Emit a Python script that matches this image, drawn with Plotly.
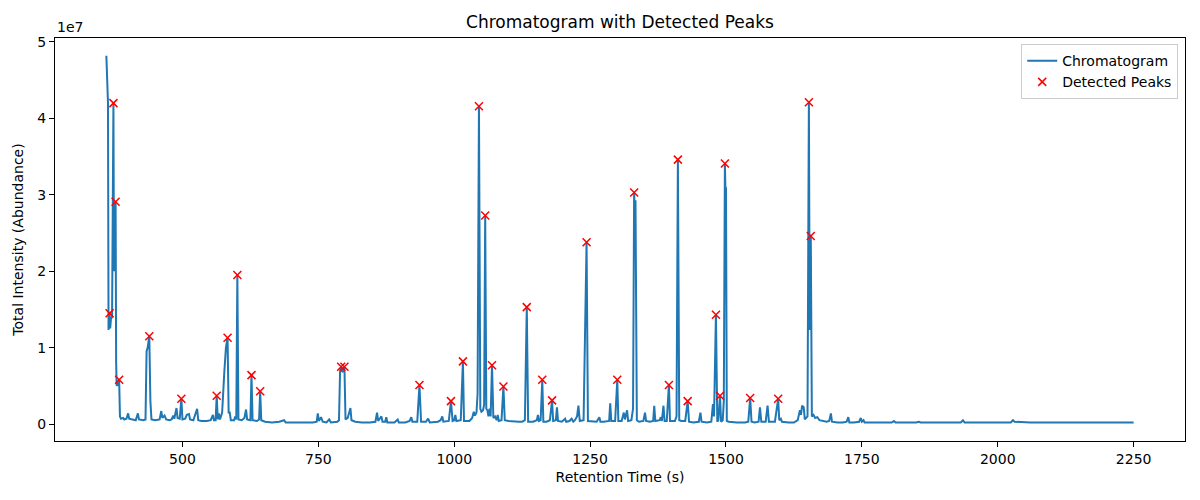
import plotly.graph_objects as go


# Chromatogram trace (retention time in s, intensity in units of 1e6)
rt = [
    360, 361.5, 363, 364, 365, 366, 367, 368.5, 370.5, 372,
    373, 374, 375.5, 377, 378, 379, 381, 383.5, 385, 387,
    391, 393, 397, 400, 402, 408, 414, 418, 420, 428,
    432, 434, 436, 439, 441, 443, 450, 458, 461, 463,
    467, 470, 476, 480, 483, 485, 489, 491, 495, 498,
    500, 505, 508, 512, 514, 520, 527, 529, 535, 545,
    552, 556, 558, 561, 563, 565, 567, 569, 573, 577,
    580, 583, 585, 587, 589, 595, 597, 599, 601, 603,
    609, 614, 617, 619, 625, 627, 629, 637, 641, 643,
    645, 652, 665, 678, 687, 690, 700, 720, 740, 747,
    749, 751, 755, 758, 765, 770, 773, 785, 788, 790,
    792, 794, 796, 798, 800, 804, 807, 809, 811, 818,
    830, 845, 855, 858, 860, 866, 868, 873, 875, 877,
    890, 896, 898, 910, 918, 921, 923, 932, 936, 939,
    948, 952, 955, 970, 975, 978, 980, 990, 994, 997,
    1000, 1002, 1004, 1012, 1016, 1018, 1028, 1033, 1036, 1038,
    1041, 1043, 1045.5, 1048, 1050, 1053, 1055, 1057, 1059, 1061,
    1063, 1065, 1067, 1069.5, 1072, 1075, 1078, 1080, 1082, 1087,
    1090.5, 1093, 1100, 1110, 1119, 1125, 1130, 1133.5, 1136, 1145,
    1152, 1154, 1156, 1159, 1162, 1164, 1170, 1176, 1180, 1182,
    1187, 1189, 1191, 1198, 1204, 1206, 1212, 1216, 1219, 1222,
    1226, 1228.5, 1231, 1238, 1243.5, 1246, 1255, 1262, 1267, 1269,
    1275, 1285, 1287, 1289, 1296, 1300, 1302, 1308, 1312, 1314,
    1318, 1320, 1326, 1329, 1331, 1332, 1333.5, 1336, 1340, 1348,
    1351, 1353, 1360, 1366, 1368, 1370, 1378, 1380, 1382, 1385,
    1387, 1391, 1395, 1397, 1406, 1409, 1411.5, 1414, 1418, 1425,
    1429.5, 1432, 1440, 1450, 1453, 1455, 1465, 1473, 1476, 1478,
    1481.5, 1484, 1486, 1489, 1491, 1494, 1496, 1498, 1499, 1500,
    1501.5, 1505, 1520, 1535, 1541, 1544.5, 1547, 1553, 1560, 1562.5,
    1565, 1573, 1576.5, 1579, 1590, 1596, 1598, 1601, 1603, 1615,
    1625, 1632, 1636, 1638, 1640, 1643, 1645, 1650, 1652.5, 1654,
    1656, 1658, 1661, 1664, 1668, 1672, 1680, 1685, 1690, 1693,
    1695, 1705, 1715, 1722, 1725, 1727, 1735, 1745, 1748, 1750,
    1753, 1755, 1780, 1805, 1809, 1812, 1850, 1855, 1858, 1900,
    1932, 1936, 1939, 1980, 2024, 2028, 2031, 2060, 2100, 2150,
    2200, 2250,
]
intensity_m = [
    48.2, 46.0, 42.0, 12.3, 13.5, 14.5, 12.5, 13.8, 14.0, 35.0,
    42.0, 20.0, 27.0, 29.1, 8.0, 5.0, 5.2, 5.8, 1.0, 0.7,
    0.8, 0.6, 0.7, 1.4, 0.7, 0.6, 0.5, 1.4, 0.6, 0.5,
    0.6, 9.5, 10.0, 11.5, 3.0, 0.6, 0.5, 0.6, 1.7, 0.8,
    1.1, 0.6, 0.5, 0.6, 1.1, 0.7, 2.1, 0.8, 0.7, 3.3,
    0.6, 0.7, 1.2, 1.3, 0.6, 0.5, 2.0, 0.5, 0.4, 0.4,
    0.5, 1.2, 0.5, 0.5, 3.7, 0.6, 1.4, 0.6, 1.5, 6.8,
    10.0, 11.3, 1.5, 1.5, 0.5, 0.5, 1.0, 0.6, 19.5, 0.6,
    0.5, 0.8, 1.9, 0.6, 0.5, 6.4, 0.5, 0.4, 0.6, 4.3,
    0.5, 0.3, 0.2, 0.3, 0.5, 0.2, 0.2, 0.15, 0.2, 0.3,
    1.4, 0.4, 0.9, 0.3, 0.2, 0.6, 0.2, 0.3, 0.5, 7.0,
    7.5, 6.8, 7.0, 7.5, 0.6, 0.8, 1.6, 2.1, 0.5, 0.3,
    0.2, 0.2, 0.3, 1.5, 0.4, 1.0, 0.3, 0.3, 0.9, 0.2,
    0.2, 0.6, 0.2, 0.2, 0.4, 0.9, 0.3, 0.3, 5.1, 0.3,
    0.3, 0.7, 0.2, 0.3, 0.5, 1.0, 0.3, 0.4, 3.0, 0.4,
    0.5, 1.2, 0.4, 0.5, 8.2, 0.4, 0.4, 0.8, 1.6, 1.1,
    1.5, 4.0, 41.6, 2.0, 1.6, 1.8, 2.5, 27.3, 2.0, 1.8,
    1.0, 2.0, 1.0, 7.7, 0.8, 1.0, 0.5, 1.2, 0.4, 0.5,
    4.9, 0.5, 0.4, 0.3, 0.3, 0.3, 0.5, 15.3, 0.3, 0.3,
    0.5, 1.2, 0.4, 0.5, 5.8, 0.3, 0.3, 0.5, 3.1, 0.4,
    0.5, 2.2, 0.4, 0.3, 0.7, 0.3, 0.4, 0.7, 0.3, 0.5,
    1.0, 2.4, 0.4, 0.5, 23.8, 0.4, 0.3, 0.3, 0.9, 0.3,
    0.3, 0.4, 2.7, 0.4, 0.4, 5.8, 0.4, 0.4, 1.5, 0.6,
    1.8, 0.4, 0.5, 2.0, 30.3, 28.0, 29.3, 0.5, 0.3, 0.4,
    1.5, 0.4, 0.3, 0.4, 2.4, 0.4, 0.5, 0.9, 0.4, 2.4,
    0.4, 0.4, 5.1, 0.4, 0.4, 1.0, 34.6, 0.5, 0.4, 0.4,
    3.0, 0.3, 0.2, 0.3, 1.5, 0.3, 0.2, 0.3, 2.6, 1.0,
    14.3, 0.3, 0.5, 3.7, 0.3, 0.5, 3.0, 34.1, 30.5, 31.0,
    0.4, 0.3, 0.2, 0.2, 0.3, 3.4, 0.3, 0.2, 0.3, 2.2,
    0.3, 0.3, 2.4, 0.3, 0.3, 3.3, 0.5, 0.7, 0.3, 0.2,
    0.2, 0.5, 1.8, 1.2, 2.4, 2.2, 0.6, 1.0, 42.1, 12.3,
    24.6, 1.0, 1.2, 0.8, 0.9, 0.5, 0.4, 0.3, 0.4, 1.4,
    0.3, 0.2, 0.2, 0.3, 0.9, 0.2, 0.2, 0.3, 0.8, 0.3,
    0.5, 0.2, 0.2, 0.2, 0.4, 0.2, 0.2, 0.3, 0.2, 0.2,
    0.2, 0.5, 0.2, 0.2, 0.2, 0.5, 0.3, 0.2, 0.2, 0.2,
    0.2, 0.2,
]

# Detected peaks (red crosses)
peak_rt = [
    366, 373, 377, 383.5, 439, 498, 563, 583, 601, 627,
    643, 792, 798, 936, 994, 1016, 1045.5, 1057, 1069.5, 1090.5,
    1133.5, 1162, 1180, 1243.5, 1300, 1331, 1395, 1411.5, 1429.5, 1481.5,
    1489, 1498, 1544.5, 1596, 1652.5, 1656,
]
peak_intensity_m = [
    14.5, 42.0, 29.1, 5.8, 11.5, 3.3, 3.7, 11.3, 19.5, 6.4,
    4.3, 7.5, 7.5, 5.1, 3.0, 8.2, 41.6, 27.3, 7.7, 4.9,
    15.3, 5.8, 3.1, 23.8, 5.8, 30.3, 5.1, 34.6, 3.0, 14.3,
    3.7, 34.1, 3.4, 3.3, 42.1, 24.6,
]

x_ticks = [500, 750, 1000, 1250, 1500, 1750, 2000, 2250]
y_ticks = [0, 1e7, 2e7, 3e7, 4e7, 5e7]
y_tick_text = ["0", "1", "2", "3", "4", "5"]

assert len(rt) == len(intensity_m)
assert len(peak_rt) == len(peak_intensity_m)

intensity = [v * 1e6 for v in intensity_m]
peak_intensity = [v * 1e6 for v in peak_intensity_m]

fig = go.Figure()
fig.add_trace(go.Scatter(
    x=rt, y=intensity, mode="lines", name="Chromatogram",
    line=dict(color="#1f77b4", width=2),
))
fig.add_trace(go.Scatter(
    x=peak_rt, y=peak_intensity, mode="markers", name="Detected Peaks",
    marker=dict(symbol="x-thin", size=8, color="red", line=dict(color="red", width=1.5)),
))

axis_style = dict(
    showline=True, mirror=True, linecolor="black", linewidth=1,
    ticks="outside", ticklen=5, tickcolor="black", showgrid=False, zeroline=False,
    tickfont=dict(size=14, color="black"), automargin=False,
)

# the page body adds an 8px offset, margins are trimmed to compensate
fig.update_layout(
    width=1200, height=500,
    margin=dict(l=47, r=23, t=30, b=67),
    paper_bgcolor="white", plot_bgcolor="white",
    font=dict(family="DejaVu Sans", size=14, color="black"),
    title=dict(text="Chromatogram with Detected Peaks", x=0.5, xanchor="center",
               xref="paper", y=0.972, yanchor="middle", font=dict(size=17)),
    showlegend=True,
    legend=dict(x=0.994, y=0.985, xanchor="right", yanchor="top",
                bgcolor="white", bordercolor="#cccccc", borderwidth=1,
                font=dict(size=14)),
)
fig.update_xaxes(
    range=[265.5, 2344.5], tickvals=x_ticks,
    title=dict(text="Retention Time (s)", standoff=6, font=dict(size=14)),
    **axis_style,
)
fig.update_yaxes(
    range=[-0.222e7, 5.052e7], tickvals=y_ticks, ticktext=y_tick_text,
    title=dict(text="Total Intensity (Abundance)", standoff=10, font=dict(size=14)),
    **axis_style,
)
fig.add_annotation(
    text="1e7", xref="paper", yref="paper", x=0, y=1, xanchor="left", yanchor="bottom",
    showarrow=False, font=dict(size=14), yshift=1,
)

fig.write_html("out.html")
